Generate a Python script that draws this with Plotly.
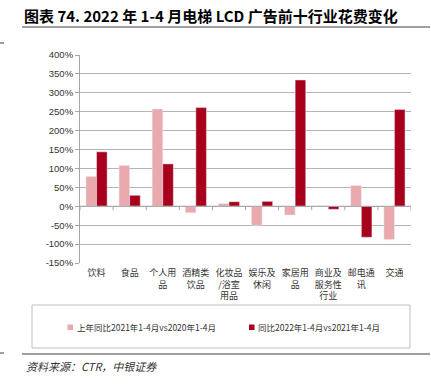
import plotly.graph_objects as go

categories = ["饮料", "食品", "个人用<br>品", "酒精类<br>饮品", "化妆品<br>/浴室<br>用品",
              "娱乐及<br>休闲", "家居用<br>品", "商业及<br>服务性<br>行业", "邮电通<br>讯", "交通"]
prev_yoy = [79, 108, 257, -17, 7, -50, -23, 1, 55, -88]
curr_yoy = [144, 29, 112, 261, 12, 13, 334, -8, -82, 256]
series_names = ["上年同比2021年1-4月vs2020年1-4月", "同比2022年1-4月vs2021年1-4月"]
y_ticks = list(range(-150, 401, 50))

light = "#E9A9AD"
dark = "#A8001C"
cjk = "Noto Sans CJK SC"

# pixel -> paper helpers (plot area: x 80..411, y 55..263)
def px(x):
    return (x - 80) / 331

def py(y):
    return (263 - y) / 208

fig = go.Figure()
fig.add_trace(go.Bar(x=categories, y=prev_yoy, marker_color=light, showlegend=False,
                     name=series_names[0]))
fig.add_trace(go.Bar(x=categories, y=curr_yoy, marker_color=dark, showlegend=False,
                     name=series_names[1]))

shapes = []
# x-axis line at zero with category boundary ticks
shapes.append(dict(type="line", xref="paper", yref="y", x0=0, x1=1, y0=0, y1=0,
                   line=dict(color="#a6a6a6", width=1)))
for i in range(len(categories) + 1):
    shapes.append(dict(type="line", xref="x", yref="y", x0=i - 0.5, x1=i - 0.5,
                       ysizemode="pixel", yanchor=0, y0=0, y1=-4,
                       line=dict(color="#a6a6a6", width=1)))
# legend box
shapes.append(dict(type="rect", xref="paper", yref="paper",
                   x0=px(32), x1=px(410), y0=py(348), y1=py(305),
                   line=dict(color="#bfbfbf", width=1)))
# legend swatches
for x0, col in [(67.5, light), (249, dark)]:
    shapes.append(dict(type="rect", xref="paper", yref="paper",
                       x0=px(x0), x1=px(x0 + 5.5), y0=py(330), y1=py(324.5),
                       line=dict(width=0), fillcolor=col))
# decorative page lines
for yy in [27, 354]:
    shapes.append(dict(type="line", xref="paper", yref="paper",
                       x0=px(22), x1=px(430), y0=py(yy), y1=py(yy),
                       line=dict(color="#404040", width=1.2)))
for yy in [43, 353]:
    shapes.append(dict(type="line", xref="paper", yref="paper",
                       x0=px(0), x1=px(4), y0=py(yy), y1=py(yy),
                       line=dict(color="#404040", width=1)))

annotations = [
    dict(text="<b>图表 74. 2022 年 1-4 月电梯 LCD 广告前十行业花费变化</b>",
         xref="paper", yref="paper", x=px(22), y=py(15),
         xanchor="left", yanchor="middle", showarrow=False,
         font=dict(family=cjk, size=15, color="#000000")),
    dict(text="<i>资料来源：CTR，中银证券</i>",
         xref="paper", yref="paper", x=px(24), y=py(366),
         xanchor="left", yanchor="middle", showarrow=False,
         font=dict(family=cjk, size=11, color="#333333")),
    dict(text=series_names[0], xref="paper", yref="paper", x=px(75), y=py(327),
         xanchor="left", yanchor="middle", showarrow=False,
         font=dict(family=cjk, size=8.5, color="#333333")),
    dict(text=series_names[1], xref="paper", yref="paper", x=px(256), y=py(327),
         xanchor="left", yanchor="middle", showarrow=False,
         font=dict(family=cjk, size=8.5, color="#333333")),
]

fig.update_layout(
    width=431, height=384,
    margin=dict(l=80, r=20, t=55, b=121, pad=0),
    paper_bgcolor="white", plot_bgcolor="white",
    barmode="group", bargap=0.36, bargroupgap=0,
    shapes=shapes, annotations=annotations,
    showlegend=False,
    xaxis=dict(type="category", showline=False, ticks="", showgrid=False,
               tickfont=dict(family=cjk, size=9, color="#333333"),
               ticklabelstandoff=3,
               range=[-0.5, 9.5]),
    yaxis=dict(range=[-150, 400], tickvals=y_ticks,
               ticktext=[f"{v}%" for v in y_ticks],
               showgrid=True, gridcolor="#b3b3b3", gridwidth=1,
               zeroline=False, showline=True, linecolor="#a6a6a6", linewidth=1,
               ticks="outside", ticklen=4, tickcolor="#a6a6a6",
               tickfont=dict(family="Liberation Sans", size=9.5, color="#333333")),
)

fig.write_html("out.html", config={"displayModeBar": False},
               post_script="document.body.style.margin='0';")
